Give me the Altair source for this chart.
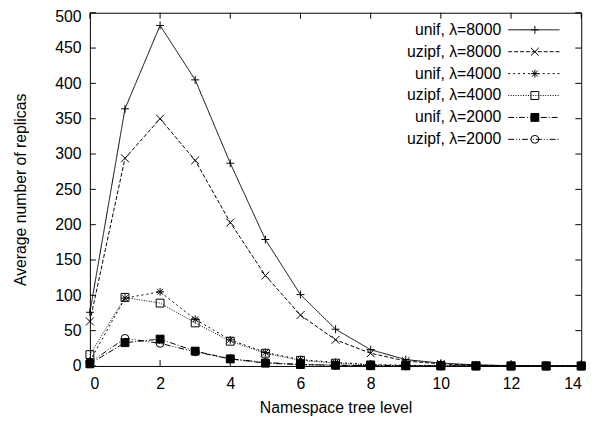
import altair as alt
import pandas as pd

FONT = "Liberation Sans"

levels = list(range(15))
series = ["unif, λ=8000", "uzipf, λ=8000", "unif, λ=4000",
          "uzipf, λ=4000", "unif, λ=2000", "uzipf, λ=2000"]

unif_8000 = [76, 364, 482, 405, 287, 179, 101, 52, 23, 9, 4, 1.5, 0.5, 0.2, 0]
uzipf_8000 = [63, 294, 350, 291, 203, 128, 72, 37, 18, 7, 3, 1, 0.4, 0.1, 0]
unif_4000 = [7, 96, 105, 66, 37, 19, 9, 5, 2, 1, 0.5, 0.2, 0.1, 0, 0]
uzipf_4000 = [16, 97, 89, 61, 35, 18, 8, 4, 1.5, 0.6, 0.3, 0.1, 0, 0, 0]
unif_2000 = [3, 33, 38, 21, 10, 4, 2, 1, 0.4, 0.2, 0.1, 0, 0, 0, 0]
uzipf_2000 = [5, 39, 32, 20, 10, 5, 2, 1, 0.5, 0.2, 0.1, 0, 0, 0, 0]

x_ticks = [0, 2, 4, 6, 8, 10, 12, 14]
y_ticks = [0, 50, 100, 150, 200, 250, 300, 350, 400, 450, 500]

all_vals = [unif_8000, uzipf_8000, unif_4000, uzipf_4000, unif_2000, uzipf_2000]
rows = []
for name, vals in zip(series, all_vals):
    for lv, v in zip(levels, vals):
        rows.append({"level": lv, "value": v, "series": name})
df = pd.DataFrame(rows)

W, H = 498, 358
TICK = 6

PLUS = "M-1,0L1,0M0,-1L0,1"
CROSS = "M-1,-1L1,1M-1,1L1,-1"
STAR = "M-1,0L1,0M0,-1L0,1M-0.75,-0.75L0.75,0.75M-0.75,0.75L0.75,-0.75"
SQUARE = "M-1,-1L1,-1L1,1L-1,1Z"

dashes = [[1, 0], [4, 2], [2, 3], [1, 1.5], [6, 2, 1, 2], [6, 2, 1, 2, 1, 2]]
shapes = [PLUS, CROSS, STAR, SQUARE, SQUARE, "circle"]
fills = ["transparent", "transparent", "transparent", "transparent", "black", "transparent"]
sizes = [64, 64, 64, 56, 81, 56]

xs = alt.Scale(domain=[0, 14], nice=False, zero=False)
ys = alt.Scale(domain=[0, 500], nice=False)

common_axis = dict(labelFont=FONT, titleFont=FONT, labelFontSize=16, titleFontSize=16,
                   titleFontWeight="normal", labelColor="black", titleColor="black",
                   domain=False, ticks=False, tickSize=0, grid=False)
xaxis = alt.Axis(values=x_ticks, title="Namespace tree level", format="d",
                 labelPadding=10, titlePadding=8, **common_axis)
yaxis = alt.Axis(values=y_ticks, title="Average number of replicas", format="d",
                 labelPadding=9, titlePadding=27,
                 labelOffset={"condition": {"test": "datum.value === 500", "value": 4}, "value": 0},
                 **common_axis)

dash_enc = alt.StrokeDash("series:N", scale=alt.Scale(domain=series, range=dashes), legend=None)
shape_enc = alt.Shape("series:N", scale=alt.Scale(domain=series, range=shapes), legend=None)
fill_enc = alt.Fill("series:N", scale=alt.Scale(domain=series, range=fills), legend=None)
size_enc = alt.Size("series:N", scale=alt.Scale(domain=series, range=sizes), legend=None)

base = alt.Chart(df)
X = alt.X("level:Q", scale=xs, axis=xaxis)
Y = alt.Y("value:Q", scale=ys, axis=yaxis)

lines = base.mark_line(color="black", strokeWidth=1).encode(
    x=X, y=Y, strokeDash=dash_enc, detail="series:N")
points = base.mark_point(stroke="black", strokeWidth=1, opacity=1).encode(
    x=X, y=Y, shape=shape_enc, fill=fill_enc, size=size_enc)

# inward ticks (gnuplot style), on all four sides
xt = alt.Chart(pd.DataFrame({"t": x_ticks}))
yt = alt.Chart(pd.DataFrame({"t": y_ticks}))
XT = alt.X("t:Q", scale=xs, axis=xaxis)
YT = alt.Y("t:Q", scale=ys, axis=yaxis)
tick_b = xt.mark_rule(color="black", strokeWidth=1).encode(x=XT, y=alt.value(H), y2=alt.value(H - TICK))
tick_t = xt.mark_rule(color="black", strokeWidth=1).encode(x=XT, y=alt.value(0), y2=alt.value(TICK))
tick_l = yt.mark_rule(color="black", strokeWidth=1).encode(y=YT, x=alt.value(0), x2=alt.value(TICK))
tick_r = yt.mark_rule(color="black", strokeWidth=1).encode(y=YT, x=alt.value(W), x2=alt.value(W - TICK))

# in-plot legend
leg = alt.Chart(pd.DataFrame({"series": series, "row": list(range(len(series)))})).transform_calculate(
    ly="17.3 + 22.2 * datum.row")
LY = alt.Y("ly:Q", scale=None, axis=None)
leg_text = leg.mark_text(align="right", baseline="middle", font=FONT, fontSize=16, color="black").encode(
    x=alt.value(417), y=LY, text="series:N")
leg_line = leg.mark_rule(color="black", strokeWidth=1).encode(
    x=alt.value(424), x2=alt.value(476), y=LY, strokeDash=dash_enc)
leg_pts = leg.mark_point(stroke="black", strokeWidth=1, opacity=1).encode(
    x=alt.value(451), y=LY, shape=shape_enc, fill=fill_enc, size=size_enc)

chart = alt.layer(
    lines, points, tick_b, tick_t, tick_l, tick_r, leg_line, leg_pts, leg_text
).properties(
    width=W, height=H,
    autosize=alt.AutoSizeParams(type="none"),
    padding={"left": 83, "top": 2, "right": 18, "bottom": 55},
).configure_view(stroke="black", strokeWidth=1)

chart.save("out.html", embed_options={"renderer": "svg", "actions": False})
